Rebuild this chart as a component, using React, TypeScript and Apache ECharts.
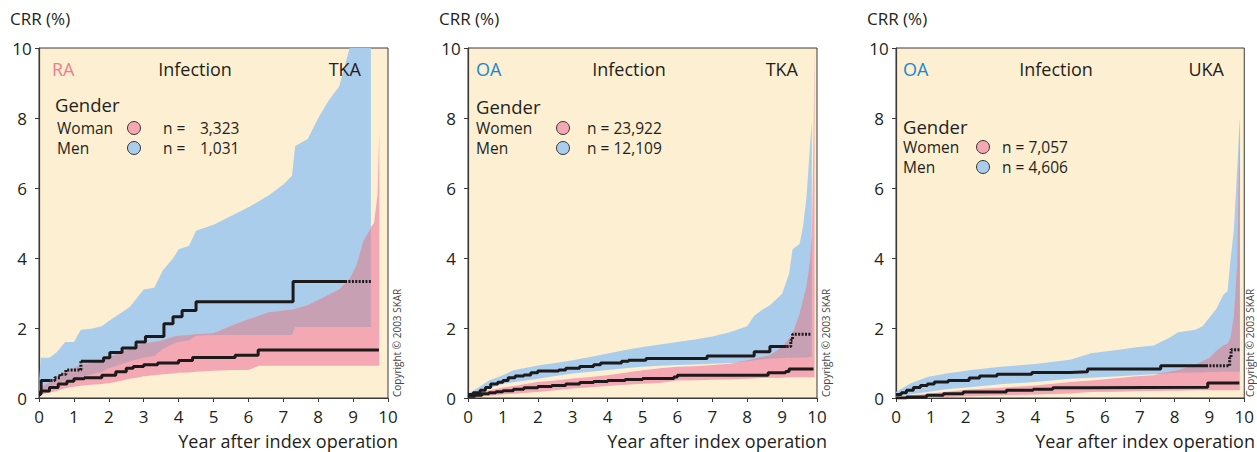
import { useEffect, useRef } from "react";
import * as echarts from "echarts";

// ---------- Panel 1: RA, TKA ----------
const p1X = [0, 0.05, 0.3, 0.5, 0.75, 1.0, 1.2, 1.5, 1.8, 2.0, 2.3, 2.6, 2.8, 3.0, 3.3, 3.55, 3.85, 4.0, 4.3, 4.5, 5.0, 5.6, 6.0, 6.3, 6.6, 7.0, 7.25, 7.34, 7.7, 8.0, 8.3, 8.6, 8.9, 9.1, 9.3, 9.51, 9.52, 9.6, 9.7, 9.75];
const p1MenHi = [0.4, 1.15, 1.15, 1.3, 1.6, 1.6, 1.95, 1.98, 2.05, 2.2, 2.4, 2.6, 2.85, 3.1, 3.15, 3.65, 4.0, 4.25, 4.35, 4.78, 4.95, 5.25, 5.45, 5.62, 5.8, 6.1, 6.35, 7.2, 7.4, 8.0, 8.5, 8.9, 10, 10, 10, 10, null, null, null, null];
const p1MenLo = [0.1, 0.15, 0.3, 0.4, 0.5, 0.55, 0.6, 0.68, 0.75, 0.85, 0.95, 1.05, 1.1, 1.15, 1.2, 1.4, 1.55, 1.6, 1.65, 1.78, 1.8, 1.8, 1.8, 1.8, 1.8, 1.8, 1.8, 2.03, 2.03, 2.03, 2.03, 2.03, 2.03, 2.03, 2.03, 2.03, null, null, null, null];
const p1WomenHi = [0.15, 0.3, 0.45, 0.6, 0.75, 0.85, 0.95, 1.0, 1.05, 1.15, 1.3, 1.4, 1.5, 1.55, 1.6, 1.65, 1.75, 1.78, 1.8, 1.82, 1.85, 2.1, 2.25, 2.35, 2.45, 2.5, 2.52, 2.55, 2.65, 2.8, 2.95, 3.1, 3.4, 3.8, 4.5, 4.85, 4.9, 5.0, 5.8, 7.6];
const p1WomenLo = [0.05, 0.1, 0.15, 0.2, 0.28, 0.32, 0.35, 0.38, 0.4, 0.42, 0.48, 0.55, 0.58, 0.62, 0.65, 0.68, 0.7, 0.72, 0.73, 0.75, 0.78, 0.8, 0.8, 0.92, 0.92, 0.92, 0.92, 0.92, 0.92, 0.92, 0.92, 0.92, 0.92, 0.92, 0.92, 0.92, 0.92, 0.92, 0.92, 0.92];
const p1MenLine = [[0, 0.13], [0.06, 0.5], [0.33, 0.5], [0.45, 0.58], [0.6, 0.68], [0.77, 0.8], [1.2, 1.05], [1.85, 1.15], [2.03, 1.3], [2.38, 1.43], [2.78, 1.6], [3.05, 1.76], [3.58, 2.12], [3.84, 2.32], [4.1, 2.5], [4.5, 2.75], [7.28, 3.33], [8.77, 3.33], [9.52, 3.33]];
const p1MenDotted = [[0.33, 1.2], [8.77, 9.52]];
const p1WomenLine = [[0, 0.1], [0.05, 0.2], [0.3, 0.3], [0.55, 0.4], [0.8, 0.48], [1.0, 0.55], [1.3, 0.58], [1.8, 0.65], [2.2, 0.75], [2.5, 0.85], [2.7, 0.9], [3.0, 0.95], [3.4, 1.0], [4.0, 1.07], [4.4, 1.16], [5.62, 1.22], [6.28, 1.37], [9.74, 1.37]];
const p1WomenDotted: number[][] = [];

// ---------- Panel 2: OA, TKA ----------
const p2X = [0, 0.3, 0.6, 1.0, 1.3, 2.0, 2.5, 3.0, 3.5, 4.0, 4.5, 5.0, 5.5, 6.0, 6.5, 7.0, 7.5, 8.0, 8.2, 8.4, 8.65, 9.0, 9.2, 9.3, 9.5, 9.6, 9.7, 9.8, 9.85, 9.86, 9.9, 9.93];
const p2MenHi = [0.12, 0.3, 0.5, 0.65, 0.79, 0.93, 1.0, 1.08, 1.17, 1.27, 1.37, 1.46, 1.53, 1.6, 1.67, 1.76, 1.88, 2.05, 2.35, 2.5, 2.65, 2.98, 3.55, 4.25, 4.4, 4.9, 5.75, 7.2, 7.9, null, null, null];
const p2MenLo = [0.05, 0.15, 0.28, 0.4, 0.45, 0.55, 0.63, 0.7, 0.75, 0.8, 0.85, 0.89, 0.92, 0.94, 0.96, 0.98, 1.0, 1.04, 1.08, 1.1, 1.12, 1.14, 1.15, 1.15, 1.16, 1.16, 1.16, 1.17, 1.17, null, null, null];
const p2WomenHi = [0.08, 0.15, 0.22, 0.3, 0.34, 0.46, 0.5, 0.56, 0.6, 0.65, 0.72, 0.79, 0.85, 0.89, 0.91, 0.94, 0.98, 1.07, 1.12, 1.17, 1.22, 1.46, 1.7, 1.84, 2.4, 2.8, 3.2, 3.9, 4.6, 5.0, 7.5, 10];
const p2WomenLo = [0.02, 0.04, 0.06, 0.1, 0.12, 0.17, 0.22, 0.27, 0.31, 0.34, 0.38, 0.41, 0.43, 0.5, 0.51, 0.52, 0.53, 0.55, 0.56, 0.57, 0.58, 0.58, 0.59, 0.59, 0.59, 0.59, 0.59, 0.59, 0.59, 0.59, 0.59, 0.59];
const p2MenLine = [[0, 0.1], [0.15, 0.15], [0.35, 0.22], [0.5, 0.3], [0.65, 0.4], [0.85, 0.45], [1.0, 0.5], [1.15, 0.58], [1.35, 0.63], [1.6, 0.66], [1.8, 0.72], [2.0, 0.77], [2.6, 0.8], [2.8, 0.85], [3.2, 0.9], [3.6, 0.95], [3.8, 1.0], [4.4, 1.05], [4.6, 1.08], [5.1, 1.13], [6.85, 1.2], [8.2, 1.32], [8.65, 1.47], [9.13, 1.47], [9.25, 1.65], [9.3, 1.82], [9.84, 1.82]];
const p2MenDotted = [[9.13, 9.84]];
const p2WomenLine = [[0, 0.05], [0.2, 0.08], [0.4, 0.12], [0.6, 0.15], [0.8, 0.18], [1.0, 0.21], [1.3, 0.25], [1.6, 0.29], [2.0, 0.33], [2.4, 0.36], [2.8, 0.4], [3.2, 0.44], [3.6, 0.47], [4.0, 0.5], [4.5, 0.53], [5.0, 0.56], [5.9, 0.6], [6.0, 0.65], [8.6, 0.72], [9.1, 0.76], [9.2, 0.83], [9.9, 0.83]];
const p2WomenDotted: number[][] = [];

// ---------- Panel 3: OA, UKA ----------
const p3X = [0, 0.4, 0.9, 1.45, 2.1, 3.0, 4.0, 5.0, 5.6, 6.4, 6.9, 7.4, 7.85, 8.1, 8.6, 8.8, 9.0, 9.2, 9.4, 9.52, 9.6, 9.7, 9.8, 9.87];
const p3MenHi = [0.17, 0.41, 0.6, 0.7, 0.79, 0.89, 0.97, 1.09, 1.28, 1.38, 1.45, 1.5, 1.72, 1.88, 1.95, 2.05, 2.3, 2.55, 2.95, 3.05, 3.9, 4.8, 6.6, 8.0];
const p3MenLo = [0.03, 0.1, 0.17, 0.25, 0.31, 0.39, 0.46, 0.55, 0.58, 0.62, 0.65, 0.68, 0.71, 0.72, 0.73, 0.73, 0.74, 0.74, 0.75, 0.75, 0.75, 0.75, 0.75, 0.75];
const p3WomenHi = [0.03, 0.07, 0.12, 0.18, 0.24, 0.29, 0.36, 0.46, 0.5, 0.57, 0.62, 0.65, 0.75, 0.8, 0.95, 1.05, 1.15, 1.35, 1.5, 1.56, 1.7, 2.3, 3.85, 8.0];
const p3WomenLo = [0.0, 0.0, 0.01, 0.03, 0.05, 0.07, 0.1, 0.13, 0.17, 0.18, 0.19, 0.2, 0.21, 0.21, 0.22, 0.22, 0.22, 0.22, 0.22, 0.22, 0.22, 0.22, 0.22, 0.22];
const p3MenLine = [[0, 0.1], [0.15, 0.15], [0.3, 0.22], [0.5, 0.3], [0.7, 0.36], [0.9, 0.4], [1.1, 0.46], [1.5, 0.5], [2.1, 0.57], [2.4, 0.63], [2.9, 0.68], [3.9, 0.73], [5.0, 0.75], [5.5, 0.83], [7.6, 0.92], [8.9, 0.92], [9.52, 0.92], [9.58, 1.15], [9.62, 1.38], [9.86, 1.38]];
const p3MenDotted = [[8.9, 9.86]];
const p3WomenLine = [[0, 0.0], [0.3, 0.03], [0.88, 0.08], [1.36, 0.12], [1.93, 0.17], [3.17, 0.22], [3.94, 0.25], [4.5, 0.29], [5.5, 0.31], [8.95, 0.43], [9.86, 0.43]];
const p3WomenDotted: number[][] = [];

// ---------- Labels ----------
const panelDiagnosis = ["RA", "OA", "OA"];
const panelProsthesis = ["TKA", "TKA", "UKA"];
const panelWomenLabel = ["Woman", "Women", "Women"];
const panelWomenN = ["3,323", "23,922", "7,057"];
const panelMenN = ["1,031", "12,109", "4,606"];
const xTitle = "Year after index operation";
const yTitle = "CRR (%)";
const copyright = "Copyright \u00a9 2003 SKAR";

const panels = [
  { x: p1X, mLo: p1MenLo, mHi: p1MenHi, wLo: p1WomenLo, wHi: p1WomenHi, men: p1MenLine, menDot: p1MenDotted, women: p1WomenLine, womenDot: p1WomenDotted },
  { x: p2X, mLo: p2MenLo, mHi: p2MenHi, wLo: p2WomenLo, wHi: p2WomenHi, men: p2MenLine, menDot: p2MenDotted, women: p2WomenLine, womenDot: p2WomenDotted },
  { x: p3X, mLo: p3MenLo, mHi: p3MenHi, wLo: p3WomenLo, wHi: p3WomenHi, men: p3MenLine, menDot: p3MenDotted, women: p3WomenLine, womenDot: p3WomenDotted },
];

// ---------- Styles / layout ----------
const FONT = '"Open Sans", sans-serif';
const BEIGE = "#fdefd2";
const BLUE = "#abcdec";
const PINK = "#f4a8b3";
const MAUVE = "#c8a0b3";
const INK = "#231f20";
const AX_LEFT = [39, 468, 896];
const PLOT_W = 349;
const PLOT_TOP = 48;
const PLOT_H = 350;
const legendLayout = [
  { gender: [55, 104], w: [57, 128], m: [57, 148], circ: 134, nEq: 163, num: 200, split: true },
  { gender: [476, 106], w: [476, 128], m: [476, 148], circ: 563, nEq: 587, num: 0, split: false },
  { gender: [903, 126], w: [903, 147], m: [903, 167], circ: 983, nEq: 1002, num: 0, split: false },
];
const headLayout = [
  { diag: 52, diagColor: "#f27d8d", mid: 195, right: 361 },
  { diag: 476, diagColor: "#1a88cf", mid: 629, right: 798 },
  { diag: 903, diagColor: "#1a88cf", mid: 1056, right: 1224 },
];

function splitRuns(pts: number[][], spans: number[][]) {
  const isDot = (a: number[], b: number[]) =>
    spans.some(([s, e]) => a[0] >= s - 1e-9 && b[0] <= e + 1e-9);
  const runs: { dot: boolean; pts: number[][] }[] = [];
  const n = pts.length;
  let cur = [pts[0]];
  let curDot = isDot(pts[0], pts[1]);
  for (let i = 1; i < n; i++) {
    cur.push(pts[i]);
    if (i < n - 1) {
      const d = isDot(pts[i], pts[i + 1]);
      if (d !== curDot) {
        runs.push({ dot: curDot, pts: cur });
        cur = [pts[i]];
        curDot = d;
      }
    }
  }
  runs.push({ dot: curDot, pts: cur });
  return runs;
}

function bandPoints(api: any, xs: number[], lo: (number | null)[], hi: (number | null)[]) {
  const top: number[][] = [];
  const bot: number[][] = [];
  for (let i = 0; i < xs.length; i++) {
    if (lo[i] == null || hi[i] == null) continue;
    top.push(api.coord([xs[i], hi[i]]));
    bot.push(api.coord([xs[i], lo[i]]));
  }
  return top.concat(bot.reverse());
}

function buildOption() {
  const grid: any[] = [];
  const xAxis: any[] = [];
  const yAxis: any[] = [];
  const series: any[] = [];
  const graphic: any[] = [];

  panels.forEach((p, i) => {
    grid.push({
      left: AX_LEFT[i], top: PLOT_TOP, width: PLOT_W, height: PLOT_H,
      show: true, backgroundColor: BEIGE, borderColor: "#3a3a3a", borderWidth: 1,
    });
    xAxis.push({
      type: "value", gridIndex: i, min: 0, max: 10, interval: 1,
      axisLine: { show: true, onZero: false, lineStyle: { color: "#3a3a3a", width: 1.2 } },
      axisTick: { show: true, length: 4, lineStyle: { color: "#3a3a3a" } },
      axisLabel: { fontSize: 17, color: INK, fontFamily: FONT, margin: 10 },
      splitLine: { show: false },
    });
    yAxis.push({
      type: "value", gridIndex: i, min: 0, max: 10, interval: 2,
      axisLine: { show: true, lineStyle: { color: "#3a3a3a", width: 1.2 } },
      axisTick: { show: true, length: 4, lineStyle: { color: "#3a3a3a" } },
      axisLabel: { fontSize: 17, color: INK, fontFamily: FONT, margin: 17, align: "center" },
      splitLine: { show: false },
    });

    const mauveLo = p.x.map((_, k) =>
      p.mLo[k] == null || p.wLo[k] == null ? null : Math.max(p.mLo[k] as number, p.wLo[k] as number));
    const mauveHi = p.x.map((_, k) => {
      if (p.mHi[k] == null || p.wHi[k] == null) return null;
      const h = Math.min(p.mHi[k] as number, p.wHi[k] as number);
      return Math.max(h, mauveLo[k] as number);
    });

    series.push({
      type: "custom", xAxisIndex: i, yAxisIndex: i, silent: true, clip: true, z: 1,
      data: [[0, 0]],
      renderItem: (_params: any, api: any) => ({
        type: "group",
        children: [
          { type: "polygon", shape: { points: bandPoints(api, p.x, p.mLo, p.mHi) }, style: { fill: BLUE } },
          { type: "polygon", shape: { points: bandPoints(api, p.x, p.wLo, p.wHi) }, style: { fill: PINK } },
          { type: "polygon", shape: { points: bandPoints(api, p.x, mauveLo, mauveHi) }, style: { fill: MAUVE } },
        ],
      }),
    });

    const addLine = (pts: number[][], spans: number[][]) => {
      splitRuns(pts, spans).forEach((r) => {
        series.push({
          type: "line", xAxisIndex: i, yAxisIndex: i, step: "end", symbol: "none",
          silent: true, z: 3, data: r.pts, clip: true,
          lineStyle: { color: "#1c1a1a", width: 3, type: r.dot ? [2, 1.4] : "solid", cap: "butt" },
        });
      });
    };
    addLine(p.women, p.womenDot);
    addLine(p.men, p.menDot);

    const ax = AX_LEFT[i];
    const hl = headLayout[i];
    const lg = legendLayout[i];
    const txt = (x: number, y: number, text: string, size: number, align = "left", fill = INK) => ({
      type: "text", x, y, z: 10, silent: true,
      style: { text, fill, fontSize: size, lineHeight: size, fontFamily: FONT, align, verticalAlign: "middle" },
    });
    graphic.push(txt(ax - 29, 18, yTitle, 17));
    graphic.push(txt(hl.diag, 69, panelDiagnosis[i], 18, "left", hl.diagColor));
    graphic.push(txt(hl.mid, 69, "Infection", 18, "center"));
    graphic.push(txt(hl.right, 69, panelProsthesis[i], 18, "right"));
    graphic.push(txt(lg.gender[0], lg.gender[1], "Gender", 18.5));
    graphic.push(txt(lg.w[0], lg.w[1], panelWomenLabel[i], 15.5));
    graphic.push(txt(lg.m[0], lg.m[1], "Men", 15.5));
    graphic.push({ type: "circle", z: 10, silent: true, shape: { cx: lg.circ, cy: lg.w[1], r: 6.5 }, style: { fill: PINK, stroke: "#333", lineWidth: 1 } });
    graphic.push({ type: "circle", z: 10, silent: true, shape: { cx: lg.circ, cy: lg.m[1], r: 6.5 }, style: { fill: BLUE, stroke: "#333", lineWidth: 1 } });
    if (lg.split) {
      graphic.push(txt(lg.nEq, lg.w[1], "n =", 15.5));
      graphic.push(txt(lg.nEq, lg.m[1], "n =", 15.5));
      graphic.push(txt(lg.num, lg.w[1], panelWomenN[i], 15.5));
      graphic.push(txt(lg.num, lg.m[1], panelMenN[i], 15.5));
    } else {
      graphic.push(txt(lg.nEq, lg.w[1], "n = " + panelWomenN[i], 15.5));
      graphic.push(txt(lg.nEq, lg.m[1], "n = " + panelMenN[i], 15.5));
    }
    graphic.push(txt(ax + 359, 441, xTitle, 18, "right"));
    graphic.push({
      type: "text", x: Math.min(ax + 358, 1250), y: 397, rotation: Math.PI / 2, z: 10, silent: true,
      style: { text: copyright, fill: "#444", fontSize: 10, fontFamily: FONT, align: "left", verticalAlign: "middle" },
    });
  });

  return { animation: false, backgroundColor: "#ffffff", grid, xAxis, yAxis, series, graphic };
}

export default function App() {
  const ref = useRef<HTMLDivElement>(null);
  useEffect(() => {
    if (!ref.current) return;
    const chart = echarts.init(ref.current, undefined, { renderer: "svg" });
    chart.setOption(buildOption() as any);
    return () => chart.dispose();
  }, []);
  return (
    <div
      ref={ref}
      style={{ position: "fixed", left: 0, top: 0, width: 1257, height: 452, background: "#fff" }}
    />
  );
}
